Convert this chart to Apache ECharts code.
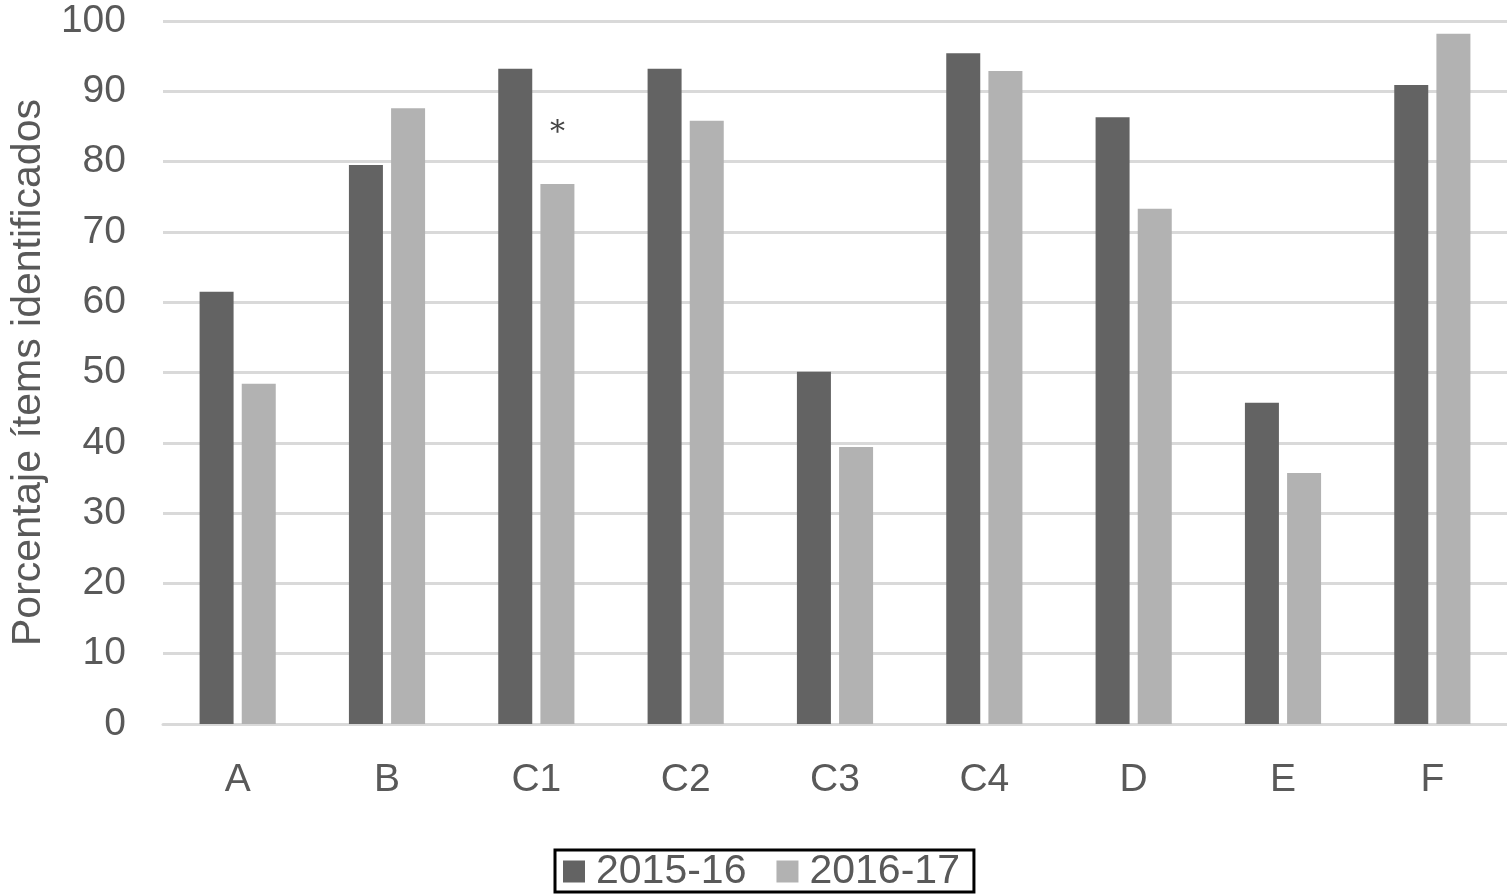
<!DOCTYPE html>
<html>
<head>
<meta charset="utf-8">
<script src="https://cdn.jsdelivr.net/npm/echarts@6/dist/echarts.min.js"></script>
<style>
  html, body { margin: 0; padding: 0; background: #fff; }
  #chart { width: 1507px; height: 894px; }
</style>
</head>
<body>
<div id="chart"></div>
<script>
const categories = ['A', 'B', 'C1', 'C2', 'C3', 'C4', 'D', 'E', 'F'];
const serie2015 = [61.5, 79.5, 93.2, 93.2, 50.1, 95.4, 86.3, 45.7, 90.9];
const serie2016 = [48.4, 87.6, 76.8, 85.8, 39.4, 92.9, 73.3, 35.7, 98.2];
const marked2016 = ['C1'];

const font = '"Liberation Sans", Arial, sans-serif';
const textColor = '#595959';

const option = {
    backgroundColor: '#fff',
    animation: false,
    grid: { left: 160, right: 0, top: 21, bottom: 170 },
    legend: {
        data: ['2015-16', '2016-17'],
        bottom: 2,
        left: 555,
        itemWidth: 22,
        itemHeight: 22,
        itemGap: 30,
        icon: 'rect',
        borderColor: '#000',
        borderWidth: 3,
        padding: [1, 14, 0, 8],
        textStyle: { fontFamily: font, fontSize: 41, color: textColor, padding: [0, 0, 0, 6] },
    },
    xAxis: {
        type: 'category',
        data: categories,
        axisTick: { show: false },
        axisLine: { lineStyle: { color: '#d9d9d9', width: 3 } },
        axisLabel: { fontFamily: font, fontSize: 39, color: textColor, margin: 37 },
    },
    yAxis: {
        type: 'value',
        min: 0,
        max: 100,
        interval: 10,
        name: 'Porcentaje ítems identificados',
        nameLocation: 'middle',
        nameGap: 114,
        nameTextStyle: { fontFamily: font, fontSize: 41, color: textColor },
        axisLine: { show: false },
        axisTick: { show: false },
        axisLabel: { fontFamily: font, fontSize: 39, color: textColor, margin: 37 },
        splitLine: { lineStyle: { color: '#d9d9d9', width: 3 } },
    },
    series: [
        {
            name: '2015-16',
            type: 'bar',
            data: serie2015,
            barWidth: 34,
            barGap: '24%',
            itemStyle: { color: '#636363' },
        },
        {
            name: '2016-17',
            type: 'bar',
            data: serie2016.map(function (v, i) {
                if (marked2016.indexOf(categories[i]) < 0) return v;
                return {
                    value: v,
                    label: {
                        show: true,
                        position: 'top',
                        formatter: '*',
                        distance: 36,
                        fontFamily: '"DejaVu Serif", serif',
                        fontSize: 30,
                        color: '#444',
                    },
                };
            }),
            barWidth: 34,
            itemStyle: { color: '#b2b2b2' },
        },
    ],
};

const chart = echarts.init(document.getElementById('chart'));
chart.setOption(option);
</script>
</body>
</html>
